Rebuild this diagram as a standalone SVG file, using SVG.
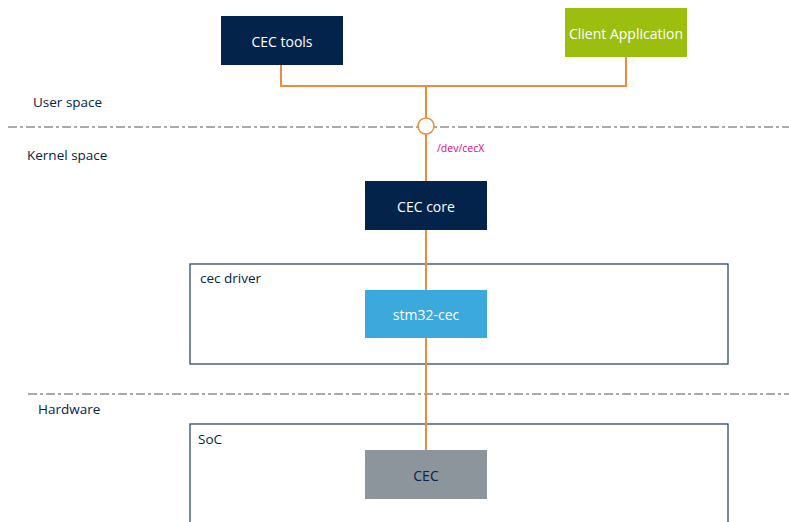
<svg xmlns="http://www.w3.org/2000/svg" width="789" height="522" viewBox="0 0 789 522">
<style>
text{font-family:"Open Sans","Liberation Sans",sans-serif;}
.lbl{font-size:13.5px;fill:#03234b;}
.wt{font-size:14px;fill:#ffffff;text-anchor:middle;dominant-baseline:central;}
.conn{fill:none;stroke:#f08a3c;stroke-width:2;}
.sep{stroke:#8a8f94;stroke-width:1.5;stroke-dasharray:9 3 3 3;}
.frame{fill:none;stroke:#1f3864;stroke-width:1.2;}
</style>
<rect width="789" height="522" fill="#ffffff"/>
<line class="sep" x1="8" y1="127" x2="789" y2="127"/>
<line class="sep" x1="28" y1="394" x2="789" y2="394"/>
<text class="lbl" x="33" y="107">User space</text>
<text class="lbl" x="27" y="160">Kernel space</text>
<text class="lbl" x="38" y="414">Hardware</text>
<g id="cec-driver"><rect class="frame" x="190" y="264" width="538" height="100"/><text class="lbl" x="200" y="283">cec driver</text></g>
<g id="soc"><rect class="frame" x="190" y="424" width="538" height="110"/><text class="lbl" x="198" y="444">SoC</text></g>
<g id="connectors">
<polyline class="conn" points="281,65 281,86 626,86 626,57"/>
<line class="conn" x1="426" y1="86" x2="426" y2="118"/>
<line class="conn" x1="426" y1="134" x2="426" y2="181"/>
<line class="conn" x1="426" y1="230" x2="426" y2="290"/>
<line class="conn" x1="426" y1="338" x2="426" y2="450"/>
<circle cx="426" cy="126" r="8" fill="#ffffff" stroke="#f08a3c" stroke-width="1.5"/>
<text x="437" y="152" font-size="10.5" fill="#e6007e">/dev/cecX</text>
</g>
<g id="cec-tools"><rect x="221" y="16" width="122" height="49" fill="#03234b"/><text class="wt" x="282" y="41">CEC tools</text></g>
<g id="client-app"><rect x="565" y="8" width="122" height="49" fill="#9bbe0f"/><text class="wt" x="626" y="33">Client Application</text></g>
<g id="cec-core"><rect x="365" y="181" width="122" height="49" fill="#03234b"/><text class="wt" x="426" y="206">CEC core</text></g>
<g id="stm32-cec"><rect x="365" y="290" width="122" height="48" fill="#3ba9db"/><text class="wt" x="426" y="314">stm32-cec</text></g>
<g id="cec"><rect x="365" y="450" width="122" height="49" fill="#8c959c"/><text class="wt" x="426" y="475" style="fill:#03234b">CEC</text></g>
</svg>
